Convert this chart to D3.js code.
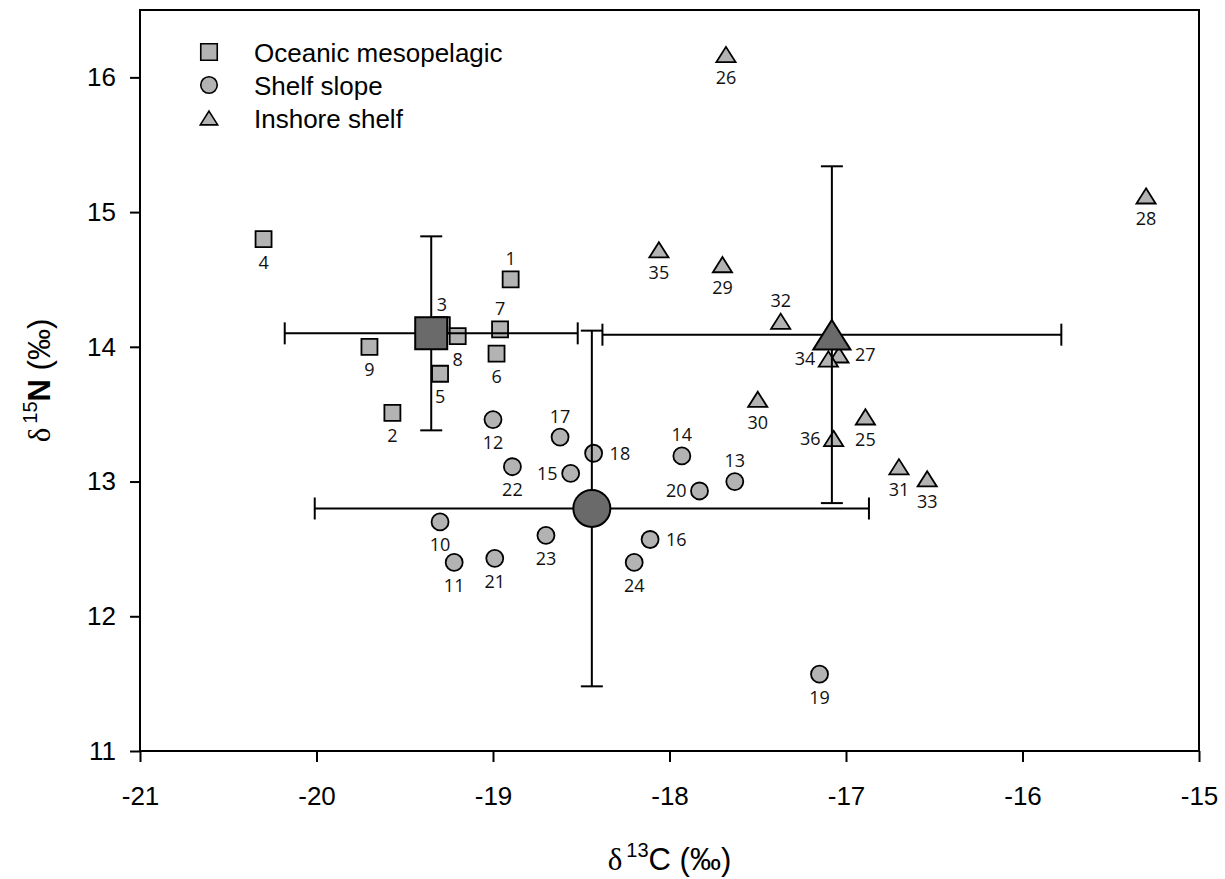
<!DOCTYPE html>
<html lang="en">
<head>
<meta charset="UTF-8">
<title>d13C vs d15N</title>
<style>
  body { margin: 0; background: #fff; }
  svg { display: block; }
  .axis text { font-family: "Liberation Sans", Arial, sans-serif; font-size: 26px; fill: #000; }
  .axis path, .axis line { stroke: #000; stroke-width: 2px; }
  .pt-label { font-family: "Open Sans", sans-serif; font-size: 18px; fill: #111; }
  .legend text { font-family: "Liberation Sans", Arial, sans-serif; font-size: 26px; fill: #000; }
  .title { font-family: "Liberation Sans", Arial, sans-serif; font-size: 31px; fill: #000; }
</style>
</head>
<body>
<div id="wrapper"></div>
<script src="https://d3js.org/d3.v7.min.js"></script>
<script>
// groups
const groups = ["Oceanic mesopelagic", "Shelf slope", "Inshore shelf"];

// oceanic mesopelagic (squares)
const oceanicIds = [1, 2, 3, 4, 5, 6, 7, 8, 9];
const oceanicC = [-18.90, -19.57, -19.29, -20.30, -19.30, -18.98, -18.96, -19.20, -19.70];
const oceanicN = [14.50, 13.51, 14.16, 14.80, 13.80, 13.95, 14.13, 14.08, 14.00];

// shelf slope (circles)
const shelfIds = [10, 11, 12, 13, 14, 15, 16, 17, 18, 19, 20, 21, 22, 23, 24];
const shelfC = [-19.30, -19.22, -19.00, -17.63, -17.93, -18.56, -18.11, -18.62, -18.43, -17.15, -17.83, -18.99, -18.89, -18.70, -18.20];
const shelfN = [12.70, 12.40, 13.46, 13.00, 13.19, 13.06, 12.57, 13.33, 13.21, 11.57, 12.93, 12.43, 13.11, 12.60, 12.40];

// inshore shelf (triangles)
const inshoreIds = [25, 26, 27, 28, 29, 30, 31, 32, 33, 34, 35, 36];
const inshoreC = [-16.89, -17.68, -17.04, -15.30, -17.70, -17.50, -16.70, -17.37, -16.54, -17.10, -18.06, -17.07];
const inshoreN = [13.48, 16.17, 13.94, 15.12, 14.61, 13.61, 13.11, 14.19, 13.02, 13.91, 14.72, 13.32];

// group means +- SD
const meanC = [-19.35, -18.44, -17.08];
const meanN = [14.10, 12.80, 14.09];
const sdC = [0.83, 1.57, 1.30];
const sdN = [0.72, 1.32, 1.25];

// tick labels
const xTicks = [-21, -20, -19, -18, -17, -16, -15];
const yTicks = [11, 12, 13, 14, 15, 16];

// where each number sits around its point (a=above, b=below, l=left, r=right)
const labelSide = {
  1: "a", 2: "b", 3: "a", 4: "b", 5: "b", 6: "b", 7: "a", 8: "b", 9: "b",
  10: "b", 11: "b", 12: "b", 13: "a", 14: "a", 15: "l", 16: "r", 17: "a", 18: "r",
  19: "b", 20: "l", 21: "b", 22: "b", 23: "b", 24: "b",
  25: "b", 26: "b", 27: "r", 28: "b", 29: "b", 30: "b", 31: "b", 32: "a", 33: "b",
  34: "l", 35: "b", 36: "l"
};

const dimensions = {
  width: 1225,
  height: 879,
  margin: { top: 10, right: 26, bottom: 128, left: 140 }
};
dimensions.boundedWidth = dimensions.width - dimensions.margin.left - dimensions.margin.right;
dimensions.boundedHeight = dimensions.height - dimensions.margin.top - dimensions.margin.bottom;

const svg = d3.select("#wrapper").append("svg")
  .attr("width", dimensions.width)
  .attr("height", dimensions.height);

const bounds = svg.append("g")
  .attr("transform", `translate(${dimensions.margin.left},${dimensions.margin.top})`);

const xScale = d3.scaleLinear().domain([-21, -15]).range([0, dimensions.boundedWidth]);
const yScale = d3.scaleLinear().domain([11, 16.5]).range([dimensions.boundedHeight, 0]);

const lightFill = "#b3b3b3";
const darkFill = "#6a6a6a";

// marker shapes, centred on their box
function shapePath(kind, s) {
  if (kind === 0) return `M${-s / 2},${-s / 2}h${s}v${s}h${-s}Z`;
  if (kind === 1) return d3.arc()({ innerRadius: 0, outerRadius: s / 2, startAngle: 0, endAngle: 2 * Math.PI });
  const w = s * 1.2, h = s * 0.95;
  return `M0,${-h / 2}L${w / 2},${h / 2}L${-w / 2},${h / 2}Z`;
}

// build point table from the arrays
const points = [];
[[oceanicIds, oceanicC, oceanicN], [shelfIds, shelfC, shelfN], [inshoreIds, inshoreC, inshoreN]]
  .forEach(([ids, cs, ns], g) => {
    ids.forEach((id, i) => points.push({ id, g, c: cs[i], n: ns[i] }));
  });

// frame
bounds.append("rect")
  .attr("width", dimensions.boundedWidth)
  .attr("height", dimensions.boundedHeight)
  .attr("fill", "none")
  .attr("stroke", "#000")
  .attr("stroke-width", 2);

// axes (plain hyphen for the minus sign, as in the original)
const xAxis = bounds.append("g")
  .attr("class", "axis")
  .attr("transform", `translate(0,${dimensions.boundedHeight})`)
  .call(d3.axisBottom(xScale).tickValues(xTicks).tickSize(11).tickSizeOuter(0).tickPadding(25).tickFormat(d => String(d)));
xAxis.select(".domain").remove();

const yAxis = bounds.append("g")
  .attr("class", "axis")
  .call(d3.axisLeft(yScale).tickValues(yTicks).tickSize(10).tickSizeOuter(0).tickPadding(14).tickFormat(d => String(d)));
yAxis.select(".domain").remove();

// small points
bounds.append("g").selectAll("path")
  .data(points)
  .join("path")
  .attr("d", d => shapePath(d.g, d.g === 1 ? 17 : 16))
  .attr("transform", d => `translate(${xScale(d.c)},${yScale(d.n)})`)
  .attr("fill", lightFill)
  .attr("stroke", "#000")
  .attr("stroke-width", 1.8);

// error bars
const capHalf = 11;
const errG = bounds.append("g").attr("stroke", "#000").attr("stroke-width", 2);
groups.forEach((name, g) => {
  const cx = xScale(meanC[g]), cy = yScale(meanN[g]);
  const x0 = xScale(meanC[g] - sdC[g]), x1 = xScale(meanC[g] + sdC[g]);
  const y0 = yScale(meanN[g] - sdN[g]), y1 = yScale(meanN[g] + sdN[g]);
  errG.append("line").attr("x1", x0).attr("x2", x1).attr("y1", cy).attr("y2", cy);
  errG.append("line").attr("x1", cx).attr("x2", cx).attr("y1", y0).attr("y2", y1);
  [x0, x1].forEach(x => errG.append("line").attr("x1", x).attr("x2", x).attr("y1", cy - capHalf).attr("y2", cy + capHalf));
  [y0, y1].forEach(y => errG.append("line").attr("x1", cx - capHalf).attr("x2", cx + capHalf).attr("y1", y).attr("y2", y));
});

// group means
bounds.append("g").selectAll("path")
  .data(groups)
  .join("path")
  .attr("d", (d, g) => shapePath(g, g === 0 ? 32 : g === 1 ? 37 : 31))
  .attr("transform", (d, g) => `translate(${xScale(meanC[g])},${yScale(meanN[g])})`)
  .attr("fill", darkFill)
  .attr("stroke", "#000")
  .attr("stroke-width", 2);

// point numbers
bounds.append("g").selectAll("text")
  .data(points)
  .join("text")
  .attr("class", "pt-label")
  .attr("x", d => {
    const s = labelSide[d.id];
    return xScale(d.c) + (s === "l" ? -13 : s === "r" ? 16 : 0);
  })
  .attr("y", d => {
    const s = labelSide[d.id];
    return yScale(d.n) + (s === "b" ? 29.5 : s === "a" ? -14.5 : 6.5);
  })
  .attr("text-anchor", d => labelSide[d.id] === "l" ? "end" : labelSide[d.id] === "r" ? "start" : "middle")
  .text(d => d.id);

// legend
const legend = svg.append("g").attr("class", "legend");
groups.forEach((name, g) => {
  const ly = 52 + g * 33;
  legend.append("path")
    .attr("d", shapePath(g, g === 2 ? 14.5 : 16.5))
    .attr("transform", `translate(209,${ly})`)
    .attr("fill", lightFill)
    .attr("stroke", "#000")
    .attr("stroke-width", 1.6);
  legend.append("text")
    .attr("x", 254)
    .attr("y", ly + 9.5)
    .text(name);
});

// axis titles
const xTitle = svg.append("text")
  .attr("class", "title")
  .attr("x", dimensions.margin.left + dimensions.boundedWidth / 2)
  .attr("y", 870)
  .attr("text-anchor", "middle");
xTitle.append("tspan").style("font-family", "'Liberation Serif', serif").text("δ");
xTitle.append("tspan").attr("dx", 4).attr("dy", -13).style("font-size", "20px").text("13");
xTitle.append("tspan").attr("dy", 13).text("C (‰)");

const yTitle = svg.append("text")
  .attr("class", "title")
  .attr("transform", `translate(50,${dimensions.margin.top + dimensions.boundedHeight / 2}) rotate(-90)`)
  .attr("text-anchor", "middle");
yTitle.append("tspan").style("font-family", "'Liberation Serif', serif").text("δ");
yTitle.append("tspan").attr("dx", 4).attr("dy", -13).style("font-size", "20px").text("15");
yTitle.append("tspan").attr("dy", 13).style("font-weight", "bold").text("N");
yTitle.append("tspan").text(" (‰)");
</script>
</body>
</html>
